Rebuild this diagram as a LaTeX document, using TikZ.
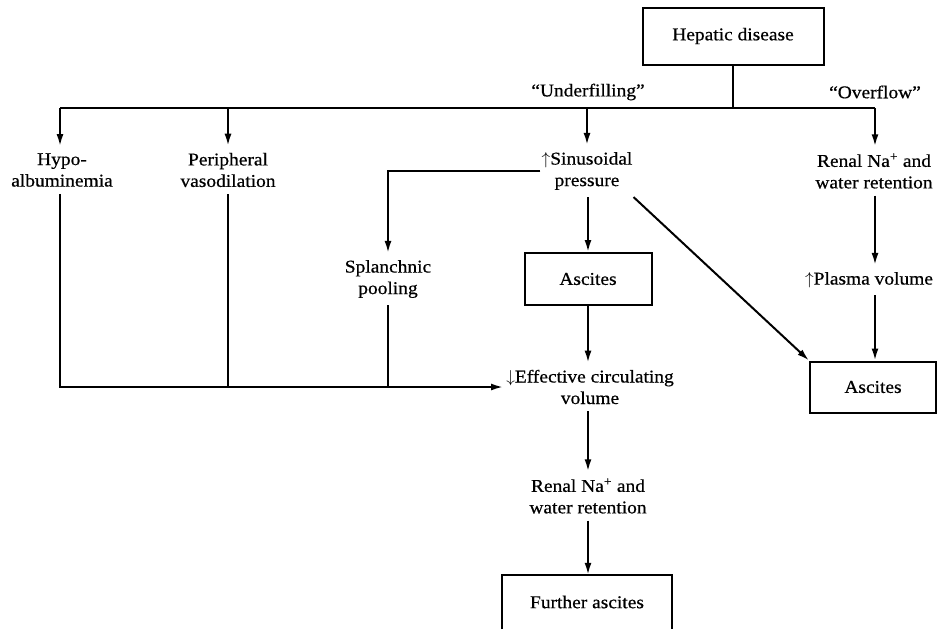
\documentclass[tikz,border=0pt]{standalone}
\usepackage{fontspec}
\setmainfont[FakeStretch=1.08,FakeBold=0.6]{Liberation Serif}
\usetikzlibrary{arrows.meta}
\begin{document}
\begin{tikzpicture}[x=1pt,y=-1pt,
  every node/.style={font=\fontsize{18}{21.5}\selectfont},
  ln/.style={line width=2pt},
  arr/.style={ln,-{Latex[length=12pt,width=7pt]}},
  txt/.style={align=center,inner xsep=3pt,inner ysep=7pt},
  box/.style={draw,line width=2pt,align=center}]
\useasboundingbox (0,0) rectangle (939,629);
% top
\node[box,minimum width=181,minimum height=57] (hep) at (733,36) {Hepatic disease};
\coordinate (busL) at (60,108);
\coordinate (busR) at (875,108);
\node (under) at (588,92) {``Underfilling''};
\node (over) at (875,92) {``Overflow''};
% second row
\node[txt] (hypo) at (62,170) {Hypo-\\albuminemia};
\node[txt] (peri) at (228,170) {Peripheral\\vasodilation};
\node[txt,inner xsep=1pt] (sinus) at (587,171) {$\uparrow$Sinusoidal\\pressure};
\node[txt] (renA) at (874,171) {Renal Na\textsuperscript{+} and\\water retention};
% third
\node[txt] (spl) at (388,279) {Splanchnic\\pooling};
\node[box,minimum width=127,minimum height=52] (ascA) at (588,279) {Ascites};
\node[txt] (plas) at (869,280) {$\uparrow$Plasma volume};
\node[box,minimum width=126,minimum height=51] (ascB) at (873,387) {Ascites};
% lower
\node[txt] (eff) at (590,387) {$\downarrow$Effective circulating\\volume};
\node[txt] (renB) at (588,496) {Renal Na\textsuperscript{+} and\\water retention};
\node[minimum width=170,minimum height=54] (fur) at (587,602) {Further ascites};
% connectors
\draw[ln] (hep.south) -- (hep.south |- busL);
\draw[ln] (busL) -- (busR);
\draw[arr] (busL) -- (busL |- hypo.north);
\draw[arr] (peri.north |- busL) -- (peri.north);
\draw[arr] (sinus.north |- busL) -- (sinus.north);
\draw[arr] (busR) -- (busR |- renA.north);
\draw[arr] (sinus.west) -| (spl.north);
\draw[arr] (ascA.north |- sinus.south) -- (ascA.north);
\draw[arr] (sinus.south east) -- (ascB.north west);
\draw[arr] (busR |- renA.south) -- (busR |- plas.north);
\draw[arr] (busR |- plas.south) -- (busR |- ascB.north);
\draw[arr] (ascA.south) -- (ascA.south |- eff.north);
\draw[arr] (busL |- hypo.south) |- (eff.west);
\draw[ln] (peri.south) -- (peri.south |- eff.west);
\draw[ln] (spl.south) -- (spl.south |- eff.west);
\draw[arr] (ascA.south |- eff.south) -- (ascA.south |- renB.north);
\draw[arr] (ascA.south |- renB.south) -- (ascA.south |- fur.north);
\draw[ln] (fur.south west) |- (fur.north) -| (fur.south east);
\end{tikzpicture}
\end{document}
